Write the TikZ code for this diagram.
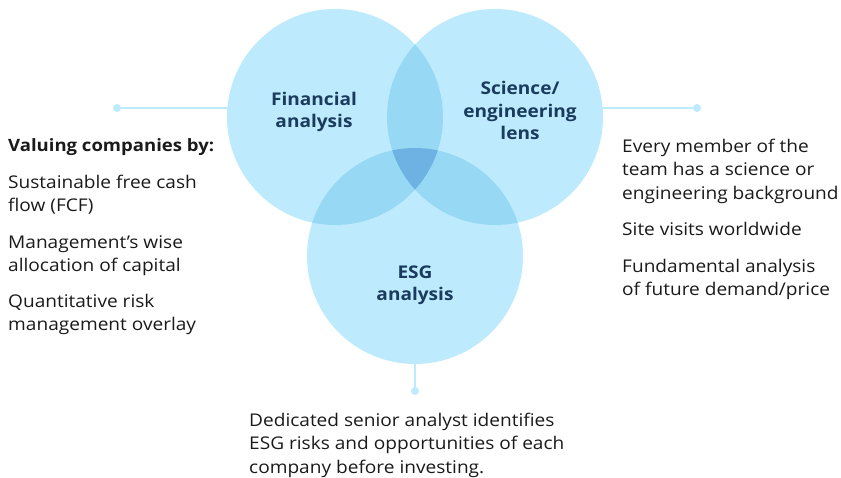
\documentclass[tikz,border=0pt]{standalone}
\usepackage{fontspec}
\setmainfont{Open Sans}[FakeStretch=1.09]
\definecolor{cfill}{HTML}{BDEBFD}
\definecolor{cpair}{HTML}{97D8F5}
\definecolor{ctrip}{HTML}{6DB2E2}
\definecolor{cline}{HTML}{BDEBFD}
\definecolor{clabel}{HTML}{1A3A5E}
\definecolor{ctext}{HTML}{1A1A1A}
\tikzset{
  venn/.style={circle, minimum size=216pt, inner sep=0pt},
  vlabel/.style={align=center, text=clabel, anchor=base, inner sep=0pt, font=\bfseries\fontsize{17.5}{22.5}\selectfont},
  body/.style={align=left, text=ctext, font=\fontsize{17.5}{23.3}\selectfont, anchor=base west, inner sep=0pt},
  bodyb/.style={body, font=\bfseries\fontsize{17}{23.3}\selectfont},
  conn/.style={draw=cline, line width=2.5pt},
  dotc/.style={circle, fill=cline, minimum size=8pt, inner sep=0pt},
}
\begin{document}
\begin{tikzpicture}[x=1pt,y=-1pt]
\useasboundingbox (0,0) rectangle (841,478);
% circle geometry
\coordinate (cf) at (335,117);
\coordinate (cs) at (495,117);
\coordinate (ce) at (415,256);
% connectors (under circles)
\node[dotc] (ldot) at (117,108) {};
\node[dotc] (rdot) at (697,108) {};
\node[dotc] (bdot) at (415,391) {};
\draw[conn] (ldot.center) -- (250,108);
\draw[conn] (rdot.center) -- (580,108);
\draw[conn] (bdot.center) -- (415,340);
% circles
\fill[cfill] (cf) circle (108);
\fill[cfill] (cs) circle (108);
\fill[cfill] (ce) circle (108);
\begin{scope}
  \clip (cf) circle (108);
  \fill[cpair] (cs) circle (108);
  \fill[cpair] (ce) circle (108);
\end{scope}
\begin{scope}
  \clip (cs) circle (108);
  \fill[cpair] (ce) circle (108);
\end{scope}
\begin{scope}
  \clip (cf) circle (108);
  \clip (cs) circle (108);
  \fill[ctrip] (ce) circle (108);
\end{scope}
\node[venn] (fin) at (cf) {};
\node[venn] (sci) at (cs) {};
\node[venn] (esg) at (ce) {};
% labels (anchor base = baseline of last line)
\node[vlabel] (finl) at (314,128) {Financial\\analysis};
\node[vlabel] (scil) at (520,140) {Science/\\engineering\\lens};
\node[vlabel] (esgl) at (415,301) {ESG\\analysis};
% left text
\node[bodyb] (lt0) at (8,151.5) {Valuing companies by:};
\node[body] (lt1) at (8,212) {Sustainable free cash\\flow (FCF)};
\node[body] (lt2) at (8,272) {Management’s wise\\allocation of capital};
\node[body] (lt3) at (8,331) {Quantitative risk\\management overlay};
% right text
\node[body] (rt1) at (622,199.1) {Every member of the\\team has a science or\\engineering background};
\node[body] (rt2) at (622,235.5) {Site visits worldwide};
\node[body] (rt3) at (622,295.5) {Fundamental analysis\\of future demand/price};
% bottom text
\node[body] (bt) at (249,473) {Dedicated senior analyst identifies\\ESG risks and opportunities of each\\company before investing.};
\end{tikzpicture}
\end{document}
